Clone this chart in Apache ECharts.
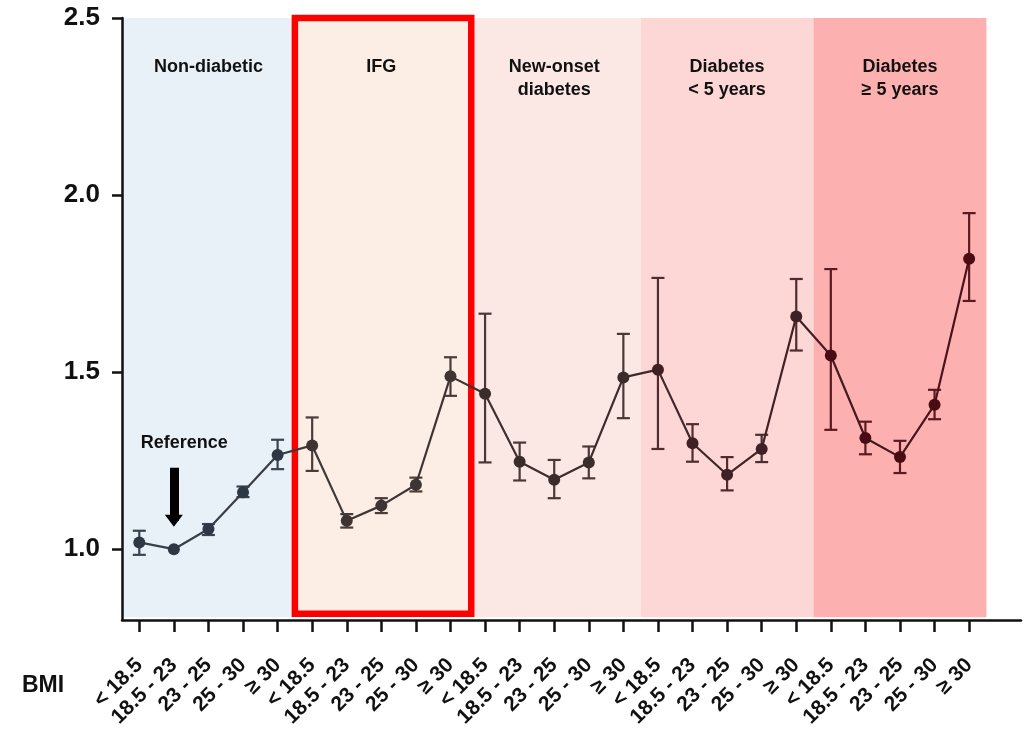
<!DOCTYPE html>
<html>
<head>
<meta charset="utf-8">
<script src="https://cdn.jsdelivr.net/npm/echarts@6/dist/echarts.min.js"></script>
<style>
html,body{margin:0;padding:0;background:#fff;}
#chart{width:1027px;height:729px;}
</style>
</head>
<body>
<div id="chart"></div>
<script>
// ---- data ----
const bmiLabels = ['< 18.5', '18.5 - 23', '23 - 25', '25 - 30', '≥ 30'];
const groupNames = ['Non-diabetic', 'IFG', 'New-onset\ndiabetes', 'Diabetes\n< 5 years', 'Diabetes\n≥ 5 years'];
const hazardRatio = [1.019, 1.000, 1.057, 1.161, 1.266,
                     1.293, 1.080, 1.123, 1.182, 1.488,
                     1.439, 1.247, 1.196, 1.245, 1.485,
                     1.507, 1.299, 1.210, 1.283, 1.657,
                     1.547, 1.314, 1.260, 1.408, 1.820];
const ciLower = [0.984, null, 1.040, 1.147, 1.226,
                 1.221, 1.061, 1.102, 1.163, 1.433,
                 1.245, 1.194, 1.144, 1.200, 1.370,
                 1.283, 1.247, 1.166, 1.246, 1.561,
                 1.337, 1.268, 1.215, 1.367, 1.701];
const ciUpper = [1.052, null, 1.071, 1.177, 1.309,
                 1.372, 1.099, 1.144, 1.202, 1.542,
                 1.665, 1.301, 1.252, 1.290, 1.608,
                 1.766, 1.353, 1.260, 1.323, 1.763,
                 1.791, 1.360, 1.306, 1.450, 1.949];
const yTickValues = [1.0, 1.5, 2.0, 2.5];
const referenceIndex = 1;
const highlightedGroup = 1;

// ---- styles ----
const FONT = 'Liberation Sans, Arial, sans-serif';
const bandColors = ['#E8F0F8', '#FCEEE5', '#FBE8E5', '#FDD6D6', '#FDB0B0'];
const pointColors = ['#2E3844', '#3E3433', '#3B2C2C', '#3F2024', '#4A0B13'];
const barColors = ['#3A4450', '#4A3C3B', '#4A3838', '#4E2D30', '#5A1A20'];
const perGroup = bmiLabels.length;
const xIdx = hazardRatio.map((_, i) => i);

const bandAreas = groupNames.map((name, g) => [
  { name: name, xAxis: g * perGroup - 0.5, yAxis: 0.808, itemStyle: { color: bandColors[g] } },
  { xAxis: (g + 1) * perGroup - 0.5, yAxis: 2.5 }
]);

const chart = echarts.init(document.getElementById('chart'), null, { renderer: 'canvas' });

chart.setOption({
  animation: false,
  backgroundColor: '#fff',
  textStyle: { fontFamily: FONT },
  title: {
    text: 'BMI', left: 17, top: 669,
    textStyle: { fontFamily: FONT, fontSize: 23, fontWeight: 'bold', color: '#111' }
  },
  grid: { left: 122, right: 6, top: 18, bottom: 109, containLabel: false, outerBoundsMode: 'none' },
  xAxis: {
    type: 'value', min: -0.5, max: 25.5, z: 10,
    axisLine: { show: true, onZero: false, lineStyle: { color: '#111', width: 2.5 } },
    axisTick: { show: true, customValues: xIdx, length: 12, lineStyle: { color: '#111', width: 2.5 } },
    axisLabel: {
      show: true, customValues: xIdx, rotate: 45, margin: 42,
      formatter: v => bmiLabels[Math.round(v) % perGroup],
      fontFamily: FONT, fontSize: 21, fontWeight: 'bold', color: '#111'
    },
    splitLine: { show: false }
  },
  yAxis: {
    type: 'value', min: 0.8, max: 2.5, z: 10,
    axisLine: { show: true, onZero: false, lineStyle: { color: '#111', width: 2.5 } },
    axisTick: { show: true, customValues: yTickValues, length: 10, lineStyle: { color: '#111', width: 2.5 } },
    axisLabel: {
      show: true, customValues: yTickValues, margin: 22,
      formatter: v => Number(v).toFixed(1),
      fontFamily: FONT, fontSize: 26, fontWeight: 'bold', color: '#111'
    },
    splitLine: { show: false }
  },
  series: [
    {
      name: 'bands', type: 'line', data: [], z: 0, silent: true,
      markArea: {
        silent: true,
        label: {
          show: true, position: 'insideTop', distance: 38,
          fontFamily: FONT, fontSize: 18, fontWeight: 'bold', color: '#111', lineHeight: 23, align: 'center'
        },
        data: bandAreas
      }
    },
    {
      name: 'ci', type: 'custom', z: 2, silent: true,
      data: xIdx.filter(i => ciLower[i] != null).map(i => [i, ciLower[i], ciUpper[i], Math.floor(i / perGroup)]),
      encode: { x: 0, y: [1, 2] },
      renderItem: function (params, api) {
        const x = api.value(0);
        const lo = api.coord([x, api.value(1)]);
        const hi = api.coord([x, api.value(2)]);
        const col = barColors[api.value(3)];
        const w = 6.5;
        const style = { stroke: col, lineWidth: 2.2 };
        return {
          type: 'group',
          children: [
            { type: 'line', shape: { x1: lo[0], y1: lo[1], x2: hi[0], y2: hi[1] }, style: style },
            { type: 'line', shape: { x1: lo[0] - w, y1: lo[1], x2: lo[0] + w, y2: lo[1] }, style: style },
            { type: 'line', shape: { x1: hi[0] - w, y1: hi[1], x2: hi[0] + w, y2: hi[1] }, style: style }
          ]
        };
      }
    },
    {
      name: 'HR', type: 'line', z: 3, silent: true,
      symbol: 'circle', symbolSize: 12,
      lineStyle: {
        width: 2.2,
        color: new echarts.graphic.LinearGradient(0, 0, 1, 0, [
          { offset: 0, color: '#37414D' },
          { offset: 0.3, color: '#3E3535' },
          { offset: 0.7, color: '#3F2528' },
          { offset: 1, color: '#4A1118' }
        ])
      },
      data: hazardRatio.map((v, i) => ({ value: [i, v], itemStyle: { color: pointColors[Math.floor(i / perGroup)] } }))
    },
    {
      name: 'annotations', type: 'line', data: [], z: 6, silent: true,
      markArea: {
        silent: true,
        itemStyle: { color: 'rgba(0,0,0,0)', borderColor: '#FF0000', borderWidth: 6.5, borderRadius: 3 },
        label: { show: false },
        data: [[
          { xAxis: highlightedGroup * perGroup - 0.5, yAxis: 0.818 },
          { xAxis: (highlightedGroup + 1) * perGroup - 0.4, yAxis: 2.5 }
        ]]
      },
      markLine: {
        silent: true,
        symbol: ['none', 'triangle'],
        symbolSize: [18, 12],
        label: { show: false },
        lineStyle: { color: '#000', width: 9, type: 'solid' },
        data: [[{ coord: [referenceIndex, 1.23] }, { coord: [referenceIndex, 1.08] }]]
      },
      markPoint: {
        silent: true,
        symbol: 'circle', symbolSize: 0,
        label: { show: true, position: 'inside', formatter: 'Reference', fontFamily: FONT, fontSize: 18, fontWeight: 'bold', color: '#111' },
        data: [{ coord: [referenceIndex + 0.3, 1.30] }]
      }
    }
  ]
});
</script>
</body>
</html>
